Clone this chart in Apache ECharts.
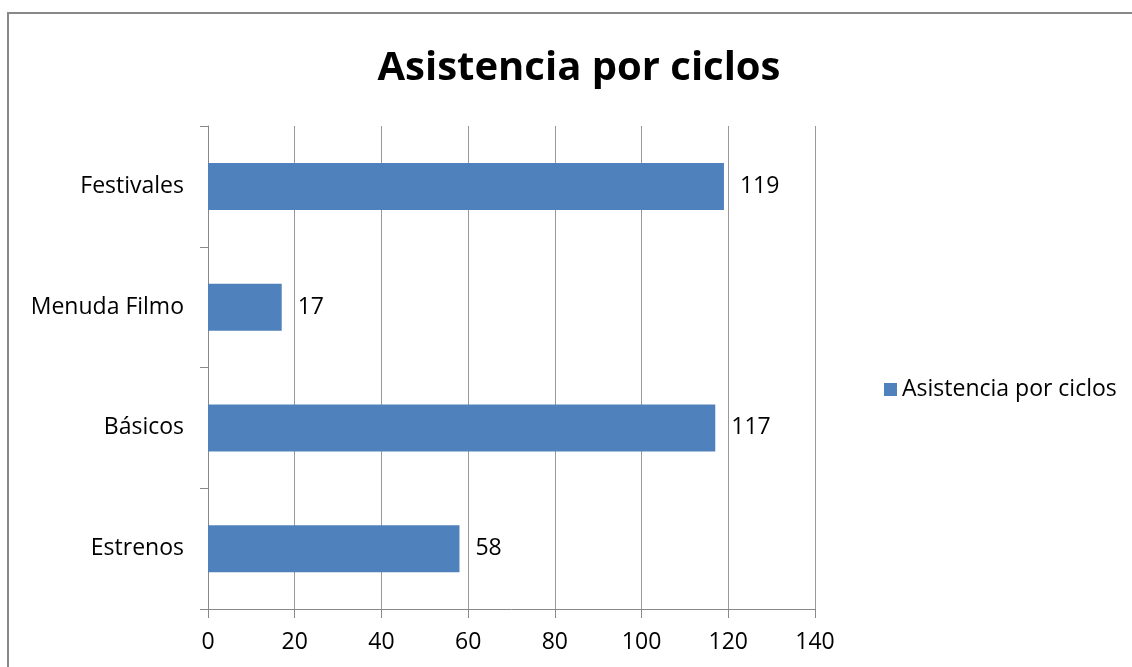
<!DOCTYPE html>
<html><head><meta charset="utf-8">
<script src="https://cdn.jsdelivr.net/npm/echarts@6/dist/echarts.min.js"></script>
<style>html,body{margin:0;padding:0;background:#fff}#c{width:1132px;height:667px}</style>
</head><body><div id="c"></div>
<script>
const categories = ["Estrenos", "Básicos", "Menuda Filmo", "Festivales"];
const values = [58, 117, 17, 119];
const seriesName = "Asistencia por ciclos";
const titleText = "Asistencia por ciclos";
const xTicks = [0, 20, 40, 60, 80, 100, 120, 140];

const chart = echarts.init(document.getElementById('c'), null, {renderer: 'canvas'});
const font = "'Open Sans', 'Noto Sans', sans-serif";
chart.setOption({
  animation: false,
  title: {text: titleText, left: 574, top: 44, textAlign: 'center',
    textStyle: {fontFamily: font, fontSize: 40, fontWeight: 'bold', color: '#000'}},
  graphic: [{type: 'rect', shape: {x: 8, y: 13, width: 1200, height: 700},
    style: {fill: 'none', stroke: '#888', lineWidth: 2}, silent: true}],
  legend: {left: 879, top: 373, itemWidth: 13, itemHeight: 13, itemGap: 6,
    icon: 'rect', textStyle: {fontFamily: font, fontSize: 23, color: '#000'},
    data: [seriesName]},
  grid: {left: 208, right: 317, top: 126, bottom: 58, containLabel: false},
  xAxis: {type: 'value', min: xTicks[0], max: xTicks[xTicks.length-1], interval: 20,
    axisLine: {show: true, lineStyle: {color: '#888', width: 1}},
    axisTick: {show: true, length: 9, lineStyle: {color: '#888'}},
    splitLine: {show: true, lineStyle: {color: '#999', width: 1}},
    axisLabel: {fontFamily: font, fontSize: 23, color: '#000', margin: 22}},
  yAxis: {type: 'category', data: categories,
    axisLine: {show: true, lineStyle: {color: '#888', width: 1}},
    axisTick: {show: true, length: 8, lineStyle: {color: '#888'}},
    axisLabel: {fontFamily: font, fontSize: 23, color: '#000', margin: 24}},
  series: [{name: seriesName, type: 'bar', data: values, barWidth: 47,
    itemStyle: {color: '#4F81BD'},
    label: {show: true, position: 'right', distance: 16, fontFamily: font, fontSize: 23, color: '#000'}}]
});
</script></body></html>
